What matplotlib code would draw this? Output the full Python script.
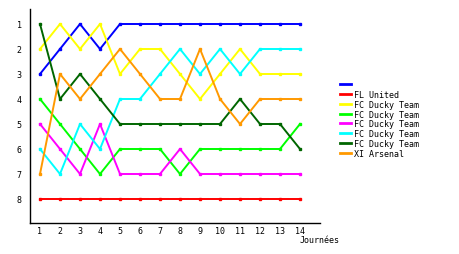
import matplotlib
matplotlib.use("Agg")
import matplotlib.pyplot as plt
from matplotlib.lines import Line2D

# classement par journée
journees = list(range(1, 15))

bleu = [3, 2, 1, 2, 1, 1, 1, 1, 1, 1, 1, 1, 1, 1]
fl_united = [8, 8, 8, 8, 8, 8, 8, 8, 8, 8, 8, 8, 8, 8]
ducky_jaune = [2, 1, 2, 1, 3, 2, 2, 3, 4, 3, 2, 3, 3, 3]
ducky_vert = [4, 5, 6, 7, 6, 6, 6, 7, 6, 6, 6, 6, 6, 5]
ducky_magenta = [5, 6, 7, 5, 7, 7, 7, 6, 7, 7, 7, 7, 7, 7]
ducky_cyan = [6, 7, 5, 6, 4, 4, 3, 2, 3, 2, 3, 2, 2, 2]
ducky_vertfonce = [1, 4, 3, 4, 5, 5, 5, 5, 5, 5, 4, 5, 5, 6]
xi_arsenal = [7, 3, 4, 3, 2, 3, 4, 4, 2, 4, 5, 4, 4, 4]

series = [bleu, fl_united, ducky_jaune, ducky_vert, ducky_magenta,
          ducky_cyan, ducky_vertfonce, xi_arsenal]
noms = [" ", "FL United", "FC Ducky Team", "FC Ducky Team", "FC Ducky Team",
        "FC Ducky Team", "FC Ducky Team", "XI Arsenal"]
couleurs = ["#0000ff", "#ff0000", "#ffff00", "#00ff00", "#ff00ff",
            "#00ffff", "#006600", "#ff9900"]

plt.rcParams['font.family'] = ['DejaVu Sans Mono']
plt.rcParams['font.size'] = 6

fig = plt.figure(figsize=(4.6, 2.55), dpi=100)
ax = fig.add_axes([30/460, 31/255, 290/460, 214/255])

for y, c in zip(series, couleurs):
    ax.plot(journees, y, color=c, lw=1.4, marker='s', markersize=1.8)

ax.set_xlim(0.5, 15)
ax.set_ylim(8.96, 0.4)
ax.set_xticks(journees)
ax.set_yticks(range(1, 9))
ax.tick_params(length=0, pad=2)
ax.tick_params(axis='y', pad=6)
for s in ['top', 'right']:
    ax.spines[s].set_visible(False)
ax.spines['left'].set_linewidth(1)
ax.spines['bottom'].set_linewidth(1)

fig.text(300/460, 1 - 241/255, "Journées", ha='left', va='center')

handles = [Line2D([], [], color=c, lw=2) for c in couleurs]
fig.legend(handles, noms, loc='upper left',
           bbox_to_anchor=(340/460, 1 - 81/255),
           frameon=False, handlelength=1.3, handletextpad=0.4,
           labelspacing=0.1, borderaxespad=0, borderpad=0)

fig.savefig("out.png", dpi=100)
